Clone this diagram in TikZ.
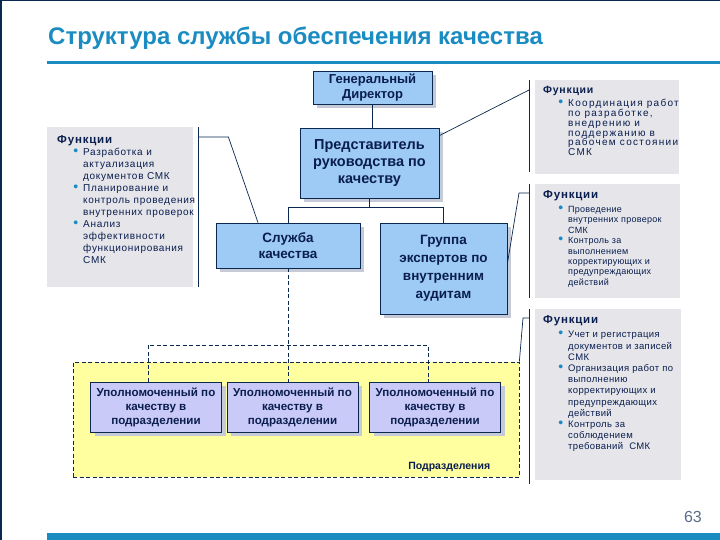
\documentclass[tikz,border=0pt]{standalone}
\usepackage{fontspec}
\setmainfont{Liberation Sans}
\newfontfamily\ffont[LetterSpace=7]{Liberation Sans}
\newfontfamily\ffontw[LetterSpace=13]{Liberation Sans}
\newfontfamily\ffontn[LetterSpace=3]{Liberation Sans}
\newfontfamily\ffontm[LetterSpace=4]{Liberation Sans}
\usetikzlibrary{shadows}
\definecolor{navy}{HTML}{0B2850}
\definecolor{txt}{HTML}{0A1E4E}
\definecolor{boxblue}{HTML}{9DCBF5}
\definecolor{lav}{HTML}{CACAF8}
\definecolor{yel}{HTML}{FFFFA0}
\definecolor{gbox}{HTML}{E5E5EA}
\definecolor{bul}{HTML}{1A8AC4}
\definecolor{titleblue}{HTML}{1A8CC2}
\definecolor{shad}{HTML}{C5CAD6}
\definecolor{numc}{HTML}{5C6C8C}
\newcommand\fhead[1]{{\ffont\bfseries\fontsize{#1}{12}\selectfont Функции}\par}
\newcommand\fbul{\textcolor{bul}{\fontsize{14}{10}\selectfont\textbullet}}
\newcommand\fitemL{\par\leftskip=26pt\noindent\llap{\fbul\hspace{5pt}}}
\newcommand\fitemR{\par\leftskip=25pt\noindent\llap{\fbul\hspace{5pt}}}
\tikzset{
  mainbox/.style={draw=navy, line width=0.8pt, fill=boxblue, align=center, text=txt, inner sep=2pt,
    drop shadow={shadow xshift=4pt, shadow yshift=-4pt, fill=shad, opacity=1}},
  unitbox/.style={mainbox, fill=lav, minimum width=131, minimum height=50,
    font=\bfseries\fontsize{11.6}{14}\selectfont},
  funcbg/.style={fill=gbox, anchor=north west, inner sep=0},
  functext/.style={anchor=north west, inner sep=0, text=txt},
  conn/.style={draw=navy, line width=0.7pt},
  dconn/.style={conn, dash pattern=on 4pt off 2.5pt},
}
\begin{document}
\begin{tikzpicture}[x=1pt,y=-1pt]
\useasboundingbox (0,0) rectangle (720,540);
\fill[white] (0,0) rectangle (720,540);
\fill[navy] (0,0) rectangle (2,540);
\fill[navy] (0,0) rectangle (720,1.5);
\fill[titleblue] (47,533) rectangle (720,540);
\fill[titleblue] (47,61.5) rectangle (720,64.5);
\node[anchor=base west, inner sep=0, text=titleblue, font=\bfseries\fontsize{24}{28}\selectfont] (title) at (48,45) {Структура службы обеспечения качества};

% main boxes
\node[mainbox, minimum width=119, minimum height=33, font=\bfseries\fontsize{13}{14.5}\selectfont] (gd) at (372.5,87.5) {Генеральный\\Директор};
\node[mainbox, minimum width=139, minimum height=70, font=\bfseries\fontsize{14.5}{16.7}\selectfont] (pr) at (369.5,163) {Представитель\\руководства по\\качеству};
\node[mainbox, minimum width=144, minimum height=45, font=\bfseries\fontsize{13.5}{15.5}\selectfont] (sl) at (288,245.5) {Служба\\качества};
\node[mainbox, minimum width=127, minimum height=91, font=\bfseries\fontsize{13.5}{18}\selectfont] (gr) at (443.5,268.5) {Группа\\экспертов по\\внутренним\\аудитам};

\draw[conn] (gd.south) -- (gd.south |- pr.north);
\draw[conn] (pr.south) -- ++(0,9) -| (sl.north);
\draw[conn] (pr.south) -- ++(0,9) -| (gr.north);

% function boxes
\node[funcbg, minimum width=146, minimum height=160] (lfb) at (47,127) {};
\node[functext] (lf) at ([shift={(10pt,-8pt)}]lfb.north west) {\parbox[t]{200pt}{\raggedright\fhead{11.5}
\ffont\fontsize{10}{12}\selectfont
\fitemL Разработка и\newline актуализация\newline документов СМК
\fitemL Планирование и\newline контроль проведения\newline внутренних проверок
\fitemL Анализ\newline эффективности\newline функционирования\newline СМК\par}};

\node[funcbg, minimum width=144, minimum height=94] (rf1b) at (535,80) {};
\node[functext] (rf1) at ([shift={(8pt,-6pt)}]rf1b.north west) {\parbox[t]{200pt}{\raggedright\fhead{10.5}\vspace{3.5pt}
\ffontw\fontsize{10}{9.8}\selectfont
\fitemR Координация работ\newline по разработке,\newline внедрению и\newline поддержанию в\newline рабочем состоянии\newline СМК\par}};

\node[funcbg, minimum width=145, minimum height=114] (rf2b) at (535,184) {};
\node[functext] (rf2) at ([shift={(8pt,-6.5pt)}]rf2b.north west) {\parbox[t]{200pt}{\raggedright\fhead{11.5}\vspace{3.5pt}
\ffontn\fontsize{9}{10.4}\selectfont
\fitemR Проведение\newline внутренних проверок\newline СМК
\fitemR Контроль за\newline выполнением\newline корректирующих и\newline предупреждающих\newline действий\par}};

\node[funcbg, minimum width=146, minimum height=171] (rf3b) at (535,309) {};
\node[functext] (rf3) at ([shift={(8pt,-6.5pt)}]rf3b.north west) {\parbox[t]{200pt}{\raggedright\fhead{11.5}\vspace{3pt}
\ffontm\fontsize{9.5}{11.2}\selectfont
\fitemR Учет и регистрация\newline документов и записей\newline СМК
\fitemR Организация работ по\newline выполнению\newline корректирующих и\newline предупреждающих\newline действий
\fitemR Контроль за\newline соблюдением\newline требований\ \ СМК\par}};

% left bracket
\draw[conn] ([xshift=5pt]lfb.north east) -- ([xshift=5pt]lfb.south east);
\draw[conn] ([xshift=5pt,yshift=-10pt]lfb.north east) -- ++(30,0) -- ([xshift=-30pt]sl.north);

% right brackets
\draw[conn] ([xshift=-6pt]rf1b.north west) -- ([xshift=-6pt,yshift=2pt]rf1b.south west);
\draw[conn] ([yshift=-8pt]pr.north east) -- ([xshift=-6pt,yshift=-10pt]rf1b.north west);
\draw[conn] ([xshift=-6pt]rf2b.north west) -- ([xshift=-6pt]rf2b.south west);
\draw[conn] ([xshift=-6pt,yshift=-9pt]rf2b.north west) -- ++(-10,0) -- ([yshift=5pt]gr.east);

% subdivisions
\node[draw=navy, line width=0.7pt, dash pattern=on 4pt off 2.5pt, fill=yel, minimum width=446, minimum height=115, inner sep=0] (pd) at (296,419.5) {};
\draw[conn] ([xshift=-6pt]rf3b.north west) -- ([xshift=-6pt,yshift=-4pt]rf3b.south west);
\draw[conn] ([xshift=-6pt,yshift=-9pt]rf3b.north west) -- ++(-6,0) -- (pd.north east);
\node[anchor=base east, inner sep=0, text=txt, font=\bfseries\fontsize{10.5}{12}\selectfont] (lbl) at ([xshift=-29pt,yshift=8pt]pd.south east) {Подразделения};

\node[unitbox] (u1) at (156,407) {Уполномоченный по\\качеству в\\подразделении};
\node[unitbox] (u2) at (292.5,407) {Уполномоченный по\\качеству в\\подразделении};
\node[unitbox] (u3) at (435,407) {Уполномоченный по\\качеству в\\подразделении};

\coordinate (h1) at (148,345);
\coordinate (h3) at (428,345);
\draw[dconn] (sl.south) -- (sl.south |- u2.north);
\draw[dconn] (h1 |- u1.north) -- (h1) -- (h3) -- (h3 |- u3.north);

\node[anchor=base east, inner sep=0, text=numc, font=\fontsize{16}{16}\selectfont] (pg) at (702,522) {63};
\end{tikzpicture}
\end{document}
